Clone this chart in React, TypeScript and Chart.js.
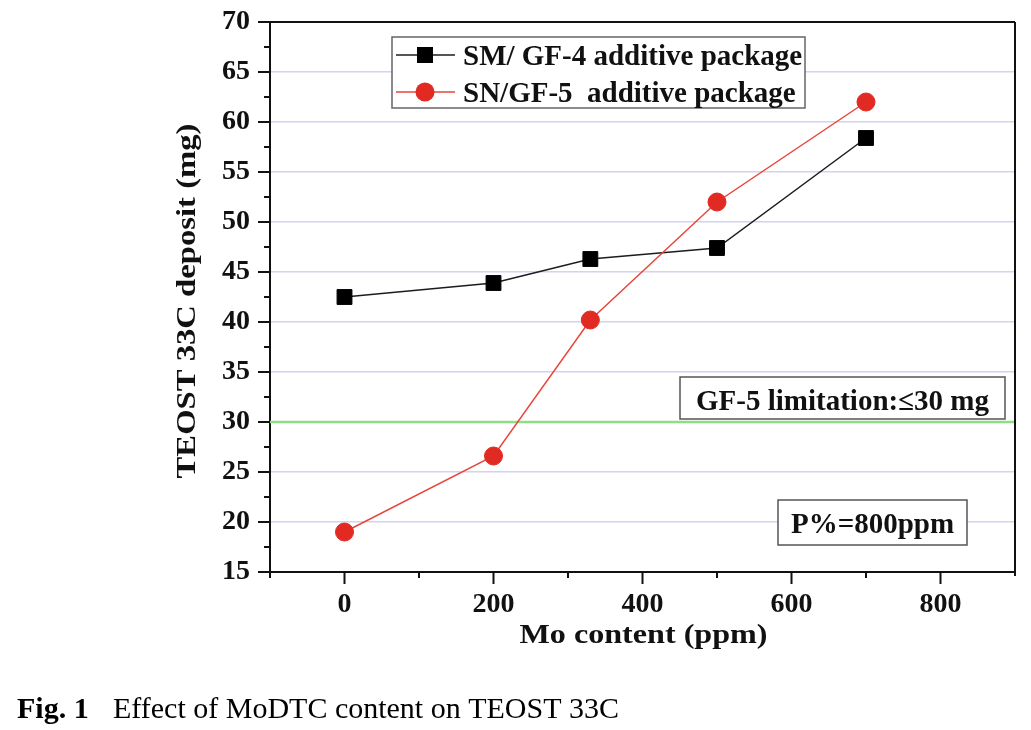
import React, { useEffect, useRef } from "react";
import { Chart, registerables } from "chart.js";

Chart.register(...registerables);

// ---- data ----
const moContentPpm = [0, 200, 330, 500, 700];
const smGf4Deposit = [42.5, 43.9, 46.3, 47.4, 58.4];
const snGf5Deposit = [19.0, 26.6, 40.2, 52.0, 62.0];
const limitLineX = [-100, 900];
const limitLineY = [30, 30];
const xTickValues = [0, 200, 400, 600, 800];
const xMinorTickValues = [-100, 100, 300, 500, 700];
const yTickValues = [15, 20, 25, 30, 35, 40, 45, 50, 55, 60, 65, 70];
const yMinorTickValues = [17.5, 22.5, 27.5, 32.5, 37.5, 42.5, 47.5, 52.5, 57.5, 62.5, 67.5];
const seriesLabels = ["SM/ GF-4 additive package", "SN/GF-5  additive package"];
const xAxisTitle = "Mo content (ppm)";
const yAxisTitle = "TEOST 33C deposit (mg)";
const limitNote = "GF-5 limitation:\u226430 mg";
const phosphorusNote = "P%=800ppm";
const captionBold = "Fig. 1";
const captionText = "Effect of MoDTC content on TEOST 33C";

const SERIF = "'Liberation Serif', 'Times New Roman', serif";
const BLACK_LINE = "#1c1c1c";
const RED_LINE = "#e8453c";
const RED_FILL = "#e12a22";
const GRID = "#d2d2f2";
const GREEN = "#8fde86";

const decorPlugin = {
  id: "decor",
  afterDraw(chart: any) {
    const ctx: CanvasRenderingContext2D = chart.ctx;
    const area = chart.chartArea;
    const xs = chart.scales.x;
    const ys = chart.scales.y;
    ctx.save();
    // top & right border
    ctx.strokeStyle = "#111";
    ctx.lineWidth = 2;
    ctx.beginPath();
    ctx.moveTo(area.left, area.top);
    ctx.lineTo(area.right, area.top);
    ctx.moveTo(area.right, area.top);
    ctx.lineTo(area.right, area.bottom + 4);
    ctx.stroke();
    // tick marks
    ctx.lineWidth = 2;
    ctx.beginPath();
    yTickValues.forEach((v) => {
      const y = ys.getPixelForValue(v);
      ctx.moveTo(area.left - 12, y);
      ctx.lineTo(area.left, y);
    });
    yMinorTickValues.forEach((v) => {
      const y = ys.getPixelForValue(v);
      ctx.moveTo(area.left - 6, y);
      ctx.lineTo(area.left, y);
    });
    xTickValues.forEach((v) => {
      const x = xs.getPixelForValue(v);
      ctx.moveTo(x, area.bottom);
      ctx.lineTo(x, area.bottom + 12);
    });
    xMinorTickValues.forEach((v) => {
      const x = xs.getPixelForValue(v);
      ctx.moveTo(x, area.bottom);
      ctx.lineTo(x, area.bottom + 6);
    });
    ctx.stroke();

    // legend
    const lx = 392, ly = 37, lw = 413, lh = 71;
    ctx.fillStyle = "#fff";
    ctx.fillRect(lx, ly, lw, lh);
    ctx.strokeStyle = "#666";
    ctx.lineWidth = 1.5;
    ctx.strokeRect(lx, ly, lw, lh);
    const rows = [55, 92];
    ctx.strokeStyle = BLACK_LINE;
    ctx.lineWidth = 1.5;
    ctx.beginPath();
    ctx.moveTo(396, rows[0]);
    ctx.lineTo(455, rows[0]);
    ctx.stroke();
    ctx.fillStyle = "#000";
    ctx.fillRect(417, rows[0] - 8, 16, 16);
    ctx.strokeStyle = RED_LINE;
    ctx.beginPath();
    ctx.moveTo(396, rows[1]);
    ctx.lineTo(455, rows[1]);
    ctx.stroke();
    ctx.fillStyle = RED_FILL;
    ctx.beginPath();
    ctx.arc(425, rows[1], 9.5, 0, Math.PI * 2);
    ctx.fill();
    ctx.fillStyle = "#111";
    ctx.font = `bold 29px ${SERIF}`;
    ctx.textAlign = "left";
    ctx.textBaseline = "alphabetic";
    ctx.fillText(seriesLabels[0], 463, 65);
    ctx.fillText(seriesLabels[1], 463, 102);

    // note boxes
    const box = (x: number, y: number, w: number, h: number, text: string, ty: number) => {
      ctx.fillStyle = "#fff";
      ctx.fillRect(x, y, w, h);
      ctx.strokeStyle = "#555";
      ctx.lineWidth = 1.5;
      ctx.strokeRect(x, y, w, h);
      ctx.fillStyle = "#111";
      ctx.font = `bold 29px ${SERIF}`;
      ctx.textAlign = "center";
      ctx.fillText(text, x + w / 2, ty);
    };
    box(680, 377, 325, 42, limitNote, 410);
    box(778, 500, 189, 45, phosphorusNote, 533);

    // axis titles (stretched horizontally as in the reference)
    ctx.fillStyle = "#111";
    ctx.font = `bold 27px ${SERIF}`;
    ctx.textAlign = "center";
    ctx.save();
    ctx.translate((area.left + area.right) / 2 + 1, 643);
    ctx.scale(1.19, 1);
    ctx.fillText(xAxisTitle, 0, 0);
    ctx.restore();
    ctx.save();
    ctx.translate(195, 301);
    ctx.rotate(-Math.PI / 2);
    ctx.scale(1.21, 1);
    ctx.fillText(yAxisTitle, 0, 0);
    ctx.restore();

    // caption
    ctx.textAlign = "left";
    ctx.fillStyle = "#000";
    ctx.font = `bold 30px ${SERIF}`;
    ctx.fillText(captionBold, 17, 718);
    ctx.font = `30px ${SERIF}`;
    ctx.fillText(captionText, 113, 718);
    ctx.restore();
  },
};

export default function App() {
  const ref = useRef<HTMLCanvasElement | null>(null);
  useEffect(() => {
    if (!ref.current) return;
    const chart = new Chart(ref.current, {
      type: "scatter",
      data: {
        datasets: [
          {
            label: seriesLabels[1],
            data: moContentPpm.map((x, i) => ({ x, y: snGf5Deposit[i] })),
            showLine: true,
            borderColor: RED_LINE,
            borderWidth: 1.5,
            backgroundColor: RED_FILL,
            pointBackgroundColor: RED_FILL,
            pointBorderColor: RED_FILL,
            pointBorderWidth: 1,
            pointStyle: "circle",
            pointRadius: 9,
          },
          {
            label: seriesLabels[0],
            data: moContentPpm.map((x, i) => ({ x, y: smGf4Deposit[i] })),
            showLine: true,
            borderColor: BLACK_LINE,
            borderWidth: 1.5,
            backgroundColor: "#000",
            pointBackgroundColor: "#000",
            pointBorderColor: "#000",
            pointBorderWidth: 1,
            pointStyle: "rect",
            pointRadius: 10.5,
          },
          {
            label: "limit",
            data: limitLineX.map((x, i) => ({ x, y: limitLineY[i] })),
            showLine: true,
            borderColor: GREEN,
            borderWidth: 2.5,
            pointRadius: 0,
          },
        ],
      },
      options: {
        responsive: false,
        animation: false,
        devicePixelRatio: 1,
        layout: { padding: { left: 0, right: 16, top: 22, bottom: 98 } },
        plugins: { legend: { display: false }, tooltip: { enabled: false } },
        scales: {
          x: {
            type: "linear",
            min: -100,
            max: 900,
            afterBuildTicks: (s: any) => {
              s.ticks = xTickValues.map((value) => ({ value }));
            },
            afterFit: (s: any) => {
              s.height = 60;
              s.paddingLeft = 0;
              s.paddingRight = 0;
              s.paddingTop = 0;
              s.paddingBottom = 0;
            },
            grid: { display: false, drawTicks: false },
            border: { display: true, color: "#111", width: 2 },
            ticks: {
              padding: 16,
              color: "#111",
              maxRotation: 0,
              font: { family: SERIF, size: 28, weight: "bold" },
            },
          },
          y: {
            type: "linear",
            min: 15,
            max: 70,
            afterBuildTicks: (s: any) => {
              s.ticks = yTickValues.map((value) => ({ value }));
            },
            afterFit: (s: any) => {
              s.width = 270;
              s.paddingLeft = 0;
              s.paddingRight = 0;
              s.paddingTop = 0;
              s.paddingBottom = 0;
            },
            grid: { display: true, drawTicks: false, color: GRID, lineWidth: 1.5 },
            border: { display: true, color: "#111", width: 2 },
            ticks: {
              padding: 20,
              color: "#111",
              font: { family: SERIF, size: 28, weight: "bold" },
            },
          },
        },
      },
      plugins: [decorPlugin],
    } as any);
    return () => chart.destroy();
  }, []);
  return (
    <div style={{ position: "fixed", left: 0, top: 0, width: 1031, height: 730, background: "#fff" }}>
      <canvas ref={ref} width={1031} height={730} style={{ display: "block" }} />
    </div>
  );
}
